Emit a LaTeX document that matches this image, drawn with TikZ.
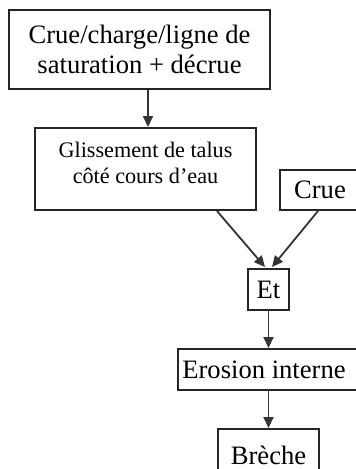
\documentclass[tikz,border=0pt]{standalone}
\usepackage{fontspec}
\setmainfont{Liberation Serif}
\usetikzlibrary{arrows.meta}
\tikzset{
  box/.style={draw=black!85, line width=2pt, rectangle, inner sep=0pt, align=center},
  big/.style={font=\fontsize{26.6}{30}\selectfont},
  mid/.style={font=\fontsize{22.2}{26}\selectfont},
  arr/.style={draw=black!80, line width=1.8pt, -{Triangle[length=11pt,width=10pt]}}
}
\begin{document}
\begin{tikzpicture}[x=1pt,y=-1pt]
\useasboundingbox (0,0) rectangle (356,469);
\clip (0,0) rectangle (356,469);
\fill[white] (0,0) rectangle (356,469);
\node[box,big,minimum width=261pt,minimum height=79pt] (b1) at (139.5,49.5) {Crue/charge/ligne de\\saturation + décrue};
\node[box,minimum width=221pt,minimum height=82pt,
  label={[mid,align=center,yshift=6pt]center:Glissement de talus\\côté cours d’eau}] (b2) at (145.5,169) {};
\node[box,big,minimum width=80pt,minimum height=40pt] (crue) at (320,190) {Crue};
\node[box,big,minimum width=41pt,minimum height=41pt] (et) at (268.5,289.5) {Et};
\node[box,minimum width=182pt,minimum height=41pt,
  label={[big,xshift=-5pt]center:Erosion interne}] (ero) at (269,369.5) {};
\node[box,minimum width=101pt,minimum height=46pt,
  label={[big,yshift=-3pt]center:Brèche}] (br) at (268.5,452) {};
\draw[arr] (b1.south -| 148,0) -- (b2.north -| 148,0);
\draw[arr] ([xshift=-40pt]b2.south east) -- ([xshift=-3.5pt,yshift=1pt]et.north);
\draw[arr] ([xshift=-2pt]crue.south) -- ([xshift=3.5pt,yshift=1pt]et.north);
\draw[arr] (et.south) -- (ero.north -| et.south);
\draw[arr] (ero.south -| et.south) -- (br.north);
\end{tikzpicture}
\end{document}
